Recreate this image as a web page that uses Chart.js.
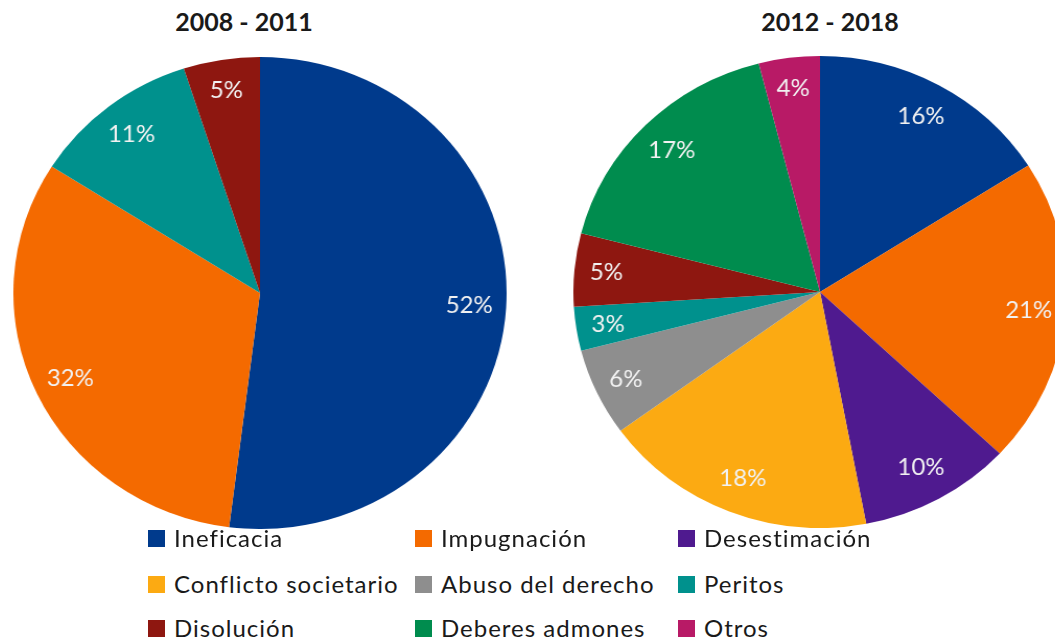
<!DOCTYPE html>
<html>
<head>
<meta charset="utf-8">
<script src="https://cdn.jsdelivr.net/npm/chart.js@4"></script>
<style>
  html, body { margin: 0; padding: 0; background: #fff; overflow: hidden; }
  body { width: 1055px; height: 638px; position: relative; font-family: Lato, "Open Sans", sans-serif; }
  .title { position: absolute; top: 6px; font-weight: bold; font-size: 25px; color: #1a1a1a; text-align: center; width: 240px; }
  .pie { position: absolute; width: 472px; height: 472px; transform: scaleX(1.045); transform-origin: center; }
  .legend { position: absolute; font-size: 24px; letter-spacing: 1px; color: #1a1a1a; }
  .item { position: absolute; white-space: nowrap; display: flex; align-items: center; height: 30px; line-height: 30px; }
  .item span { display: inline-block; width: 17px; height: 17px; margin-right: 9px; }
</style>
</head>
<body>
<div class="title" style="left:124px">2008 - 2011</div>
<div class="title" style="left:710px">2012 - 2018</div>
<div class="pie" style="left:24px; top:57px"><canvas id="pie1"></canvas></div>
<div class="pie" style="left:584px; top:56px"><canvas id="pie2"></canvas></div>
<div class="legend" id="legend"></div>
<script>
// categories and colours (legend order)
const categories = ['Ineficacia', 'Impugnación', 'Desestimación', 'Conflicto societario',
  'Abuso del derecho', 'Peritos', 'Disolución', 'Deberes admones', 'Otros'];
const colors = ['#003A8C', '#F46A00', '#4F1A8F', '#FCAA12', '#8E8E8E', '#00918D', '#8E1710', '#008C4E', '#B81A66'];

// percentages per period
const values2008 = [52, 32, 0, 0, 0, 11, 5, 0, 0];
const values2012 = [16, 21, 10, 18, 6, 3, 5, 17, 4];

// draws the % label inside each slice
const sliceLabels = {
  id: 'sliceLabels',
  afterDatasetsDraw(chart) {
    const ctx = chart.ctx;
    const meta = chart.getDatasetMeta(0);
    const data = chart.data.datasets[0].data;
    ctx.save();
    ctx.font = '23px Lato, "Open Sans", sans-serif';
    ctx.fillStyle = '#f2f2f2';
    ctx.textAlign = 'center';
    ctx.textBaseline = 'middle';
    meta.data.forEach((arc, i) => {
      if (!data[i]) return;
      const p = arc.getProps(['x', 'y', 'startAngle', 'endAngle', 'outerRadius'], true);
      const mid = (p.startAngle + p.endAngle) / 2;
      const r = p.outerRadius * (data[i] < 8 ? 0.87 : 0.85);
      ctx.fillText(data[i] + '%', p.x + Math.cos(mid) * r, p.y + Math.sin(mid) * r);
    });
    ctx.restore();
  }
};

function makePie(id, values) {
  new Chart(document.getElementById(id), {
    type: 'pie',
    data: {
      labels: categories,
      datasets: [{ data: values, backgroundColor: colors, borderWidth: 0 }]
    },
    options: {
      responsive: true,
      maintainAspectRatio: false,
      animation: false,
      layout: { padding: 0 },
      plugins: { legend: { display: false }, tooltip: { enabled: false } }
    },
    plugins: [sliceLabels]
  });
}

makePie('pie1', values2008);
makePie('pie2', values2012);

// legend, 3 columns x 3 rows
const legend = document.getElementById('legend');
const colX = [148, 415, 678];
const rowY = [523, 569, 613];
categories.forEach((c, i) => {
  const d = document.createElement('div');
  d.className = 'item';
  d.style.left = colX[i % 3] + 'px';
  d.style.top = rowY[Math.floor(i / 3)] + 'px';
  d.innerHTML = '<span style="background:' + colors[i] + '"></span>' + c;
  legend.appendChild(d);
});
</script>
</body>
</html>
